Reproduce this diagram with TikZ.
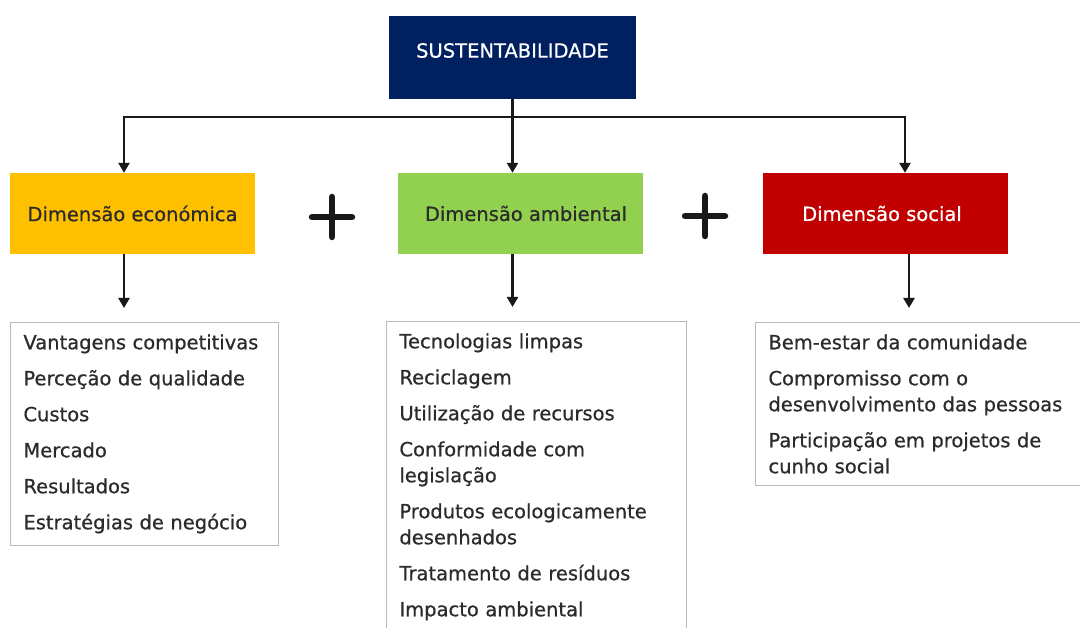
\documentclass[tikz,border=0pt]{standalone}
\usepackage{fontspec}
\setmainfont{DejaVu Sans}[FakeBold=0.6]
\usetikzlibrary{arrows.meta}
\definecolor{navy}{HTML}{002060}
\definecolor{ecoY}{HTML}{FFC000}
\definecolor{ambG}{HTML}{92D050}
\definecolor{socR}{HTML}{C00000}
\definecolor{txt}{HTML}{2B2B2B}
\begin{document}
\begin{tikzpicture}[x=1pt,y=-1pt,
  dimbox/.style={minimum width=245pt, minimum height=81pt, inner sep=0pt, text=txt, font=\fontsize{19.5}{22}\selectfont},
  listbox/.style={draw=gray!55, line width=0.9pt, anchor=north west, align=left, inner xsep=13pt, inner ysep=12pt, font=\fontsize{19.5}{26}\selectfont, text=txt},
  conn/.style={line width=2.8pt, black!90},
  arr/.style={conn, -{Triangle[length=10pt,width=11pt]}},
  plusmark/.style={line width=6.5pt, line cap=round, black!90}
]
\clip (0,0) rectangle (1080,628);
\fill[white] (0,0) rectangle (1080,628);

% top box
\node[fill=navy, minimum width=247pt, minimum height=83pt, inner sep=0pt,
  label={[text=white, font=\fontsize{19.5}{22}\selectfont, yshift=7pt]center:SUSTENTABILIDADE}] (top) at (512.5,57.5) {};

% dimension boxes
\node[dimbox, fill=ecoY] (eco) at (132.5,213.5) {Dimensão económica};
\node[dimbox, fill=ambG] (amb) at (520.5,213.5) {\hspace*{11pt}Dimensão ambiental};
\node[dimbox, fill=socR, text=white] (soc) at (885.5,213.5) {Dimensão social\hspace*{7pt}};

% plus signs
\draw[plusmark] (312,217) -- (352,217);
\draw[plusmark] (332,197) -- (332,237);
\draw[plusmark] (685,216) -- (725,216);
\draw[plusmark] (705,196) -- (705,236);

% lists
\node[listbox, text width=242pt] (ll) at (10,322) {\mbox{Vantagens competitivas}\\[10pt]\mbox{Perceção de qualidade}\\[10pt]Custos\\[10pt]Mercado\\[10pt]Resultados\\[10pt]\mbox{Estratégias de negócio}};
\node[listbox, text width=274pt] (lc) at (386,321) {Tecnologias limpas\\[10pt]Reciclagem\\[10pt]Utilização de recursos\\[10pt]Conformidade com\\legislação\\[10pt]\mbox{Produtos ecologicamente}\\desenhados\\[10pt]Tratamento de resíduos\\[10pt]Impacto ambiental\rule[-24pt]{0pt}{1pt}};
\node[listbox, text width=320pt] (lr) at (755,322) {Bem-estar da comunidade\\[10pt]Compromisso com o\\desenvolvimento das pessoas\\[10pt]Participação em projetos de\\cunho social};

% connectors
\coordinate (hl) at (124,117);
\coordinate (hr) at (905,117);
\coordinate (dr) at (909,254);
\draw[arr] (hr) -- (hl) -- (hl |- eco.north);
\draw[arr] (hl) -- (hr) -- (hr |- soc.north);
\draw[arr] (top.south) -- (top.south |- amb.north);
\draw[arr, shorten >=14pt] (hl |- eco.south) -- (hl |- ll.north);
\draw[arr, shorten >=14pt] (top.south |- amb.south) -- (top.south |- lc.north);
\draw[arr, shorten >=14pt] (dr) -- (dr |- lr.north);
\end{tikzpicture}
\end{document}
